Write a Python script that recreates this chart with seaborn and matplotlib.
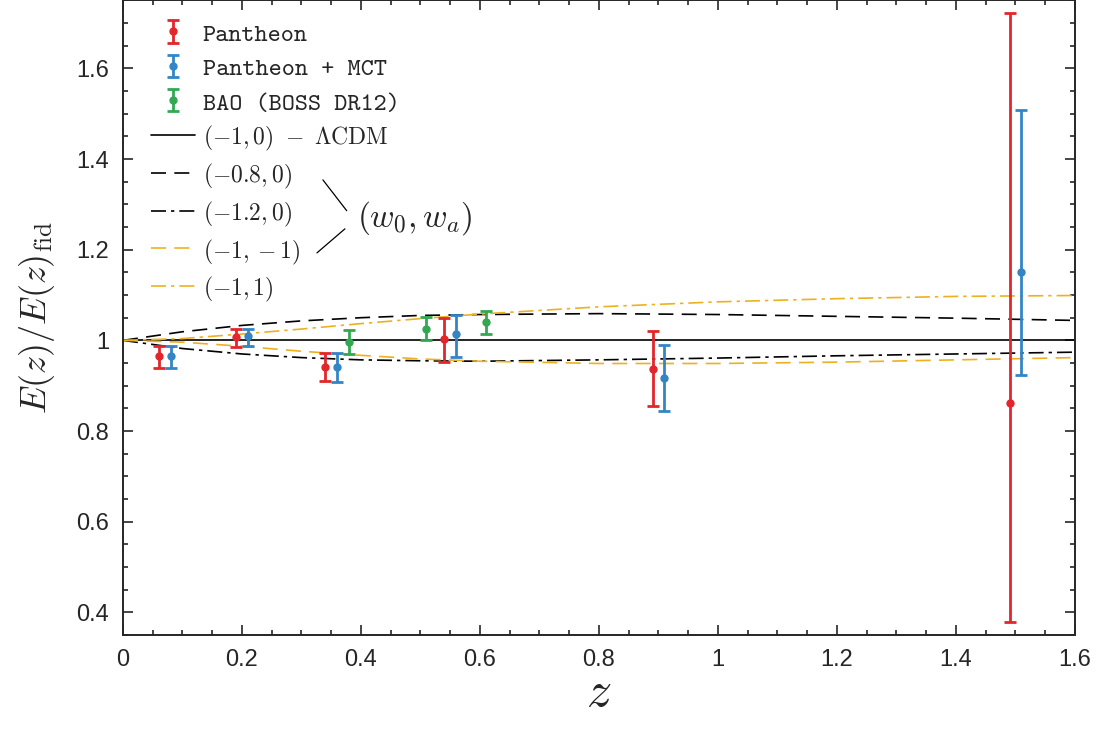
import os
import numpy as np
import matplotlib
matplotlib.use("Agg")
import matplotlib.pyplot as plt
from matplotlib.ticker import MultipleLocator, FuncFormatter
from matplotlib.font_manager import FontProperties
import seaborn as sns

# data points
pantheon_z = [0.06, 0.19, 0.34, 0.54, 0.89, 1.49]
pantheon_y = [0.965, 1.007, 0.942, 1.002, 0.937, 0.861]
pantheon_lo = [0.025, 0.022, 0.032, 0.050, 0.081, 0.482]
pantheon_hi = [0.023, 0.017, 0.031, 0.048, 0.084, 0.861]

mct_z = [0.08, 0.21, 0.36, 0.56, 0.91, 1.51]
mct_y = [0.965, 1.009, 0.941, 1.014, 0.916, 1.150]
mct_lo = [0.025, 0.022, 0.033, 0.051, 0.071, 0.226]
mct_hi = [0.023, 0.015, 0.032, 0.043, 0.074, 0.358]

bao_z = [0.38, 0.51, 0.61]
bao_y = [0.997, 1.026, 1.040]
bao_lo = [0.026, 0.026, 0.027]
bao_hi = [0.026, 0.025, 0.025]

# model curves (w0, wa), read along z
z_model = [0, 0.1, 0.2, 0.3, 0.4, 0.5, 0.6, 0.8, 1.0, 1.2, 1.4, 1.6]
lcdm = [1.0] * len(z_model)
w08_0 = [1.0, 1.019, 1.033, 1.043, 1.050, 1.055, 1.057, 1.059, 1.057, 1.053, 1.049, 1.044]
w12_0 = [1.0, 0.982, 0.970, 0.962, 0.957, 0.955, 0.954, 0.957, 0.961, 0.966, 0.970, 0.974]
w1_m1 = [1.0, 0.996, 0.987, 0.976, 0.967, 0.959, 0.954, 0.949, 0.949, 0.952, 0.957, 0.962]
w1_p1 = [1.0, 1.004, 1.014, 1.025, 1.037, 1.048, 1.058, 1.074, 1.085, 1.092, 1.097, 1.099]

data_labels = ["Pantheon", "Pantheon + MCT", "BAO (BOSS DR12)"]

red = "#e3262b"
blue = "#3385c6"
green = "#33a852"
gold = "#edb120"

sns.set_theme(style="ticks")
plt.rcParams["mathtext.fontset"] = "cm"
plt.rcParams["font.family"] = ["Liberation Sans", "DejaVu Sans"]

tt_file = os.path.join(matplotlib.get_data_path(), "fonts", "ttf", "cmtt10.ttf")
tt_font = FontProperties(fname=tt_file, size=18)

fig = plt.figure(figsize=(11.02, 7.35), dpi=100)
ax = fig.add_axes([0.1116, 0.136, 0.8639, 0.8635])

curves = [
    (lcdm, "black", "-", r"$(-1,0)\ -\ \Lambda\mathrm{CDM}$"),
    (w08_0, "black", (0, (9, 5)), r"$(-0.8,0)$"),
    (w12_0, "black", (0, (9, 3, 2, 3)), r"$(-1.2,0)$"),
    (w1_m1, gold, (0, (9, 5)), r"$(-1,-1)$"),
    (w1_p1, gold, (0, (9, 3, 2, 3)), r"$(-1,1)$"),
]
line_handles = []
for vals, col, ls, lab in curves:
    sns.lineplot(x=z_model, y=vals, ax=ax, color=col, linestyle=ls,
                 linewidth=1.2, label=lab, legend=False)
    line_handles.append(ax.lines[-1])

eb_kw = dict(fmt="o", markersize=5, elinewidth=2, capsize=4, capthick=2)
h1 = ax.errorbar(pantheon_z, pantheon_y, yerr=[pantheon_lo, pantheon_hi],
                 color=red, **eb_kw)
h2 = ax.errorbar(mct_z, mct_y, yerr=[mct_lo, mct_hi], color=blue, **eb_kw)
h3 = ax.errorbar(bao_z, bao_y, yerr=[bao_lo, bao_hi], color=green, **eb_kw)

ax.set_xlim(0, 1.6)
ax.set_ylim(0.35, 1.75)
ax.xaxis.set_major_locator(MultipleLocator(0.2))
ax.xaxis.set_minor_locator(MultipleLocator(0.05))
ax.yaxis.set_major_locator(MultipleLocator(0.2))
ax.yaxis.set_minor_locator(MultipleLocator(0.05))
fmt = FuncFormatter(lambda v, p: "{:g}".format(round(v, 2)))
ax.xaxis.set_major_formatter(fmt)
ax.yaxis.set_major_formatter(fmt)
ax.tick_params(which="both", direction="in", top=True, right=True,
               labelsize=17, colors="#262626", width=1.2)
ax.tick_params(which="major", length=7, pad=10)
ax.tick_params(which="minor", length=3.5)
for s in ax.spines.values():
    s.set_linewidth(1.4)
    s.set_color("#262626")

ax.set_xlabel(r"$z$", fontsize=36, labelpad=-1)
ax.set_ylabel(r"$E(z)/E(z)_{\rm fid}$", fontsize=26, labelpad=14)

leg = ax.legend([h1, h2, h3] + line_handles,
                data_labels + [c[3] for c in curves],
                loc="upper left", bbox_to_anchor=(0.008, 0.998), frameon=False,
                fontsize=16, handlelength=2.0, handleheight=1.3,
                labelspacing=0.39, handletextpad=0.35)
for i, t in enumerate(leg.get_texts()):
    if i < 3:
        t.set_fontproperties(tt_font)
    else:
        t.set_fontsize(17)

# bracket grouping the (w0, wa) entries
ax.plot([0.336, 0.376], [1.354, 1.286], color="black", linewidth=0.9)
ax.plot([0.373, 0.326], [1.246, 1.193], color="black", linewidth=0.9)
ax.text(0.393, 1.269, r"$(w_0, w_a)$", fontsize=24, va="center", ha="left")

fig.savefig("out.png", dpi=100)
